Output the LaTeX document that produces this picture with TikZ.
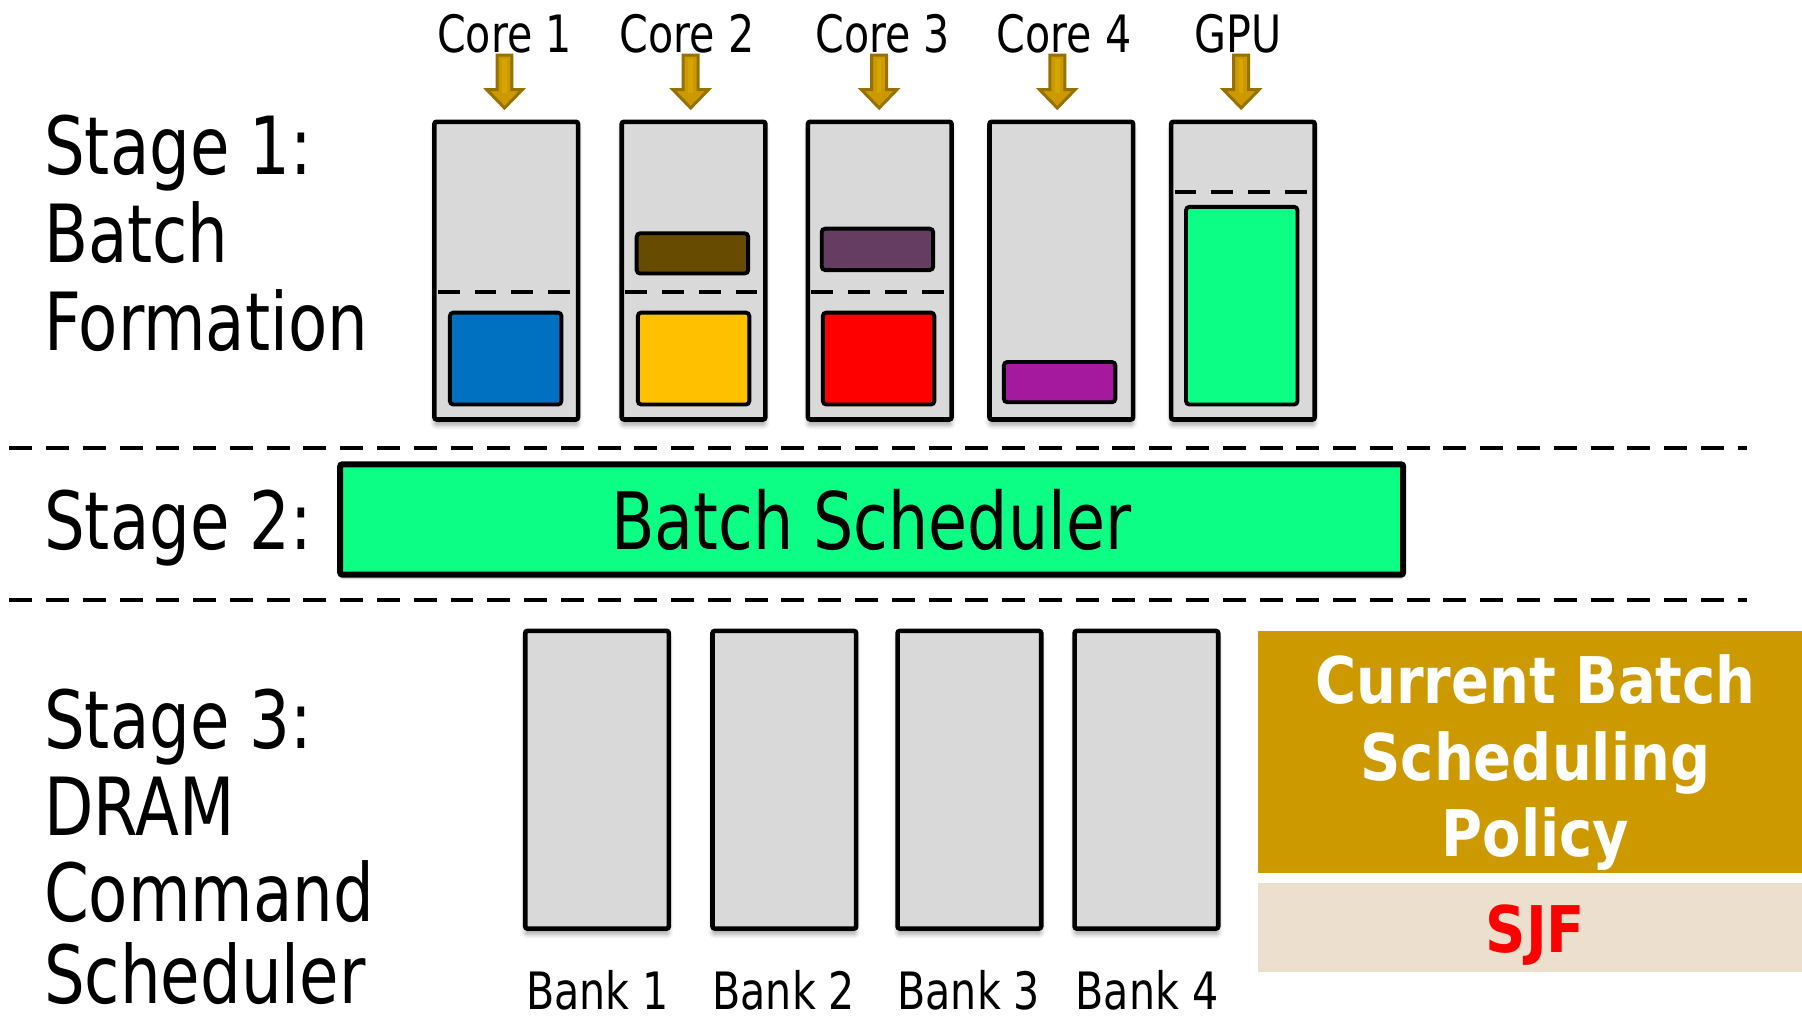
\documentclass[tikz,border=0pt]{standalone}
\usepackage{fontspec}
\setmainfont{DejaVu Sans}
\newfontfamily\tfont[FakeStretch=0.8]{DejaVu Sans}
\newfontfamily\pfont[FakeStretch=0.87]{DejaVu Sans}
\usetikzlibrary{shadows.blur}

\definecolor{qgray}{HTML}{D9D9D9}
\definecolor{cblue}{HTML}{0070C0}
\definecolor{cbrown}{HTML}{664B00}
\definecolor{cyellow}{HTML}{FFC000}
\definecolor{cplum}{HTML}{653C62}
\definecolor{cred}{HTML}{FF0000}
\definecolor{cmag}{HTML}{A5199F}
\definecolor{cgreen}{HTML}{0CFF84}
\definecolor{gold}{HTML}{CC9900}
\definecolor{golddark}{HTML}{977100}
\definecolor{beige}{HTML}{EDDFCD}

\tikzset{
  softshadow/.style={blur shadow={shadow xshift=0pt, shadow yshift=-2.5pt,
      shadow blur steps=6, shadow blur radius=2pt, shadow opacity=35}},
  qbox/.style={draw=black, line width=2pt, fill=qgray, rounded corners=1pt,
      inner sep=0pt, minimum width=62.5pt, minimum height=129.5pt, softshadow},
  blk/.style={draw=black, line width=1.7pt, rounded corners=1.5pt,
      inner sep=0pt, minimum width=48.5pt},
  sepline/.style={line width=2pt, dash pattern=on 10pt off 6pt},
  inline/.style={line width=1.8pt, dash pattern=on 9.5pt off 6.5pt},
  stagetext/.style={font=\tfont\fontsize{34.9}{38}\selectfont, anchor=base west, inner sep=0pt},
  labeltext/.style={font=\tfont\fontsize{22.4}{26}\selectfont, anchor=base, inner sep=0pt},
  policytext/.style={font=\pfont\bfseries\fontsize{28}{32}\selectfont, anchor=base, inner sep=0pt},
  % fat downward block arrow feeding a queue
  feed/.pic={
    \filldraw[fill=gold, draw=golddark, line width=1.3pt, line join=miter]
      (-6.5,0) -- (-6.5,30) -- (-15.5,30) -- (0,46) -- (15.5,30) -- (6.5,30) -- (6.5,0) -- cycle;
    \fill[gold!80!yellow, opacity=0.7] (-2,3) rectangle (2,33);
  }
}

\begin{document}
\begin{tikzpicture}[x=0.5pt, y=-0.5pt]
\useasboundingbox (0,0) rectangle (1568,887);

% stage titles
\node[stagetext] (s1a) at (38,152) {Stage 1:};
\node[stagetext] (s1b) at (38,228) {Batch};
\node[stagetext] (s1c) at (38,305) {Formation};
\node[stagetext] (s2)  at (38,478) {Stage 2:};
\node[stagetext] (s3a) at (38,651) {Stage 3:};
\node[stagetext] (s3b) at (38,727) {DRAM};
\node[stagetext] (s3c) at (38,802) {Command};
\node[stagetext] (s3d) at (38,873) {Scheduler};

% request sources
\node[labeltext] (c1) at (439,46)  {Core 1};
\node[labeltext] (c2) at (598,46)  {Core 2};
\node[labeltext] (c3) at (768,46)  {Core 3};
\node[labeltext] (c4) at (926,46)  {Core 4};
\node[labeltext] (c5) at (1077,46) {GPU};

\pic (f1) at (439,48)  {feed};
\pic (f2) at (601,48)  {feed};
\pic (f3) at (765,48)  {feed};
\pic (f4) at (920,48)  {feed};
\pic (f5) at (1080,48) {feed};

% per-source request queues
\node[qbox] (q1) at (440.5,235.5)  {};
\node[qbox] (q2) at (603.5,235.5)  {};
\node[qbox] (q3) at (765.5,235.5)  {};
\node[qbox] (q4) at (923.5,235.5)  {};
\node[qbox] (q5) at (1081.5,235.5) {};

% batch boundaries inside the queues
\draw[inline] (381,254)  -- (501,254);
\draw[inline] (544,254)  -- (664,254);
\draw[inline] (706,254)  -- (826,254);
\draw[inline] (1022,167) -- (1142,167);

% queued requests
\node[blk, fill=cblue,   minimum height=40pt]   (r1)  at (440,312)    {};
\node[blk, fill=cbrown,  minimum height=17.5pt] (r2a) at (602.5,220.5) {};
\node[blk, fill=cyellow, minimum height=40pt]   (r2b) at (603.5,312)  {};
\node[blk, fill=cplum,   minimum height=18pt]   (r3a) at (763.5,217)  {};
\node[blk, fill=cred,    minimum height=40pt]   (r3b) at (764.5,312)  {};
\node[blk, fill=cmag,    minimum height=17.5pt] (r4)  at (922,332.5)  {};
\node[blk, fill=cgreen,  minimum height=86pt]   (r5)  at (1080.5,266) {};

% stage separators
\draw[sepline] (8,390) -- (1520,390);
\draw[sepline] (8,522) -- (1520,522);

% batch scheduler
\node[draw=black, line width=2.6pt, fill=cgreen, rounded corners=1pt,
      minimum width=462.5pt, minimum height=48pt, inner sep=0pt,
      blur shadow={shadow xshift=0pt, shadow yshift=-1.5pt, shadow blur steps=4,
      shadow blur radius=1pt, shadow opacity=30}]
      (bs) at (758.5,452) {};
\node[font=\tfont\fontsize{34.5}{38}\selectfont, anchor=base, inner sep=0pt]
      (bst) at (758,478) {Batch Scheduler};

% DRAM banks
\node[qbox] (b1) at (519.5,678.5) {};
\node[qbox] (b2) at (682.5,678.5) {};
\node[qbox] (b3) at (843.5,678.5) {};
\node[qbox] (b4) at (997.5,678.5) {};
\node[labeltext] (bl1) at (520,878) {Bank 1};
\node[labeltext] (bl2) at (682,878) {Bank 2};
\node[labeltext] (bl3) at (843,878) {Bank 3};
\node[labeltext] (bl4) at (998,878) {Bank 4};

% policy panel
\node[fill=gold,  minimum width=236.5pt, minimum height=105.5pt, inner sep=0pt] (pol) at (1331.5,654.5) {};
\node[fill=beige, minimum width=236.5pt, minimum height=39pt,    inner sep=0pt] (pv)  at (1331.5,807)   {};
\node[policytext, text=white] (pt1) at (1336,612) {Current Batch};
\node[policytext, text=white] (pt2) at (1336,679) {Scheduling};
\node[policytext, text=white] (pt3) at (1336,745) {Policy};
\node[policytext, text=cred]  (pt4) at (1336,829) {SJF};
\end{tikzpicture}
\end{document}
